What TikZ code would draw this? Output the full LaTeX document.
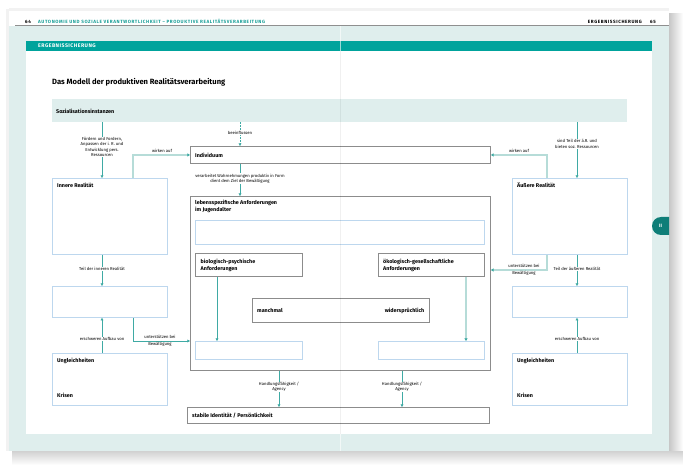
\documentclass[tikz,border=0pt]{standalone}
\usepackage{fontspec}
\setmainfont{Fira Sans}
\newfontfamily\hdrfont[LetterSpace=13]{Fira Sans}
\newfontfamily\bandfont[LetterSpace=9]{Fira Sans}
\usetikzlibrary{arrows.meta,calc}
\definecolor{tint}{HTML}{DFEEED}
\definecolor{band}{HTML}{00A39C}
\definecolor{tabc}{HTML}{0F7E78}
\definecolor{gbord}{HTML}{8C8C8C}
\definecolor{lbord}{HTML}{BDD7EE}
\definecolor{arrc}{HTML}{3FAAA4}
\definecolor{thickc}{HTML}{B6DCD8}
\definecolor{hdrline}{HTML}{8F8F8F}
\definecolor{hdrteal}{HTML}{1A9F98}
\newcommand\lblfont{\fontsize{4.2}{5.3}\selectfont}
\newcommand\boxfont{\bfseries\fontsize{5.4}{7.6}\selectfont}
\newcommand\mkbox[6]{%
 \pgfmathsetmacro\bw{#4-#2}\pgfmathsetmacro\bh{#5-#3}%
 \node[#6,anchor=north west,minimum width=\bw pt,minimum height=\bh pt,inner sep=0pt] (#1) at (#2,#3) {};}
\tikzset{
 gbox/.style={draw=gbord,line width=0.9pt,fill=white},
 lbox/.style={draw=lbord,line width=0.8pt,fill=white},
 sbox/.style={fill=tint},
 tl/.style={draw=arrc,line width=0.6pt,-{Triangle[length=2.6pt,width=2.8pt,color=arrc]}},
 tk/.style={draw=thickc,line width=1.6pt,-{Triangle[length=2.6pt,width=3pt,color=arrc]}},
 lbl/.style={font=\lblfont,align=center,fill=white,inner sep=0.6pt},
 lbln/.style={font=\lblfont,align=center,inner sep=0pt},
 btxt/.style={font=\boxfont,anchor=west,inner sep=0pt,align=left},
 htxt/.style={inner sep=0pt,font=\hdrfont\bfseries\fontsize{4.6}{5}\selectfont},
}
\begin{document}
\begin{tikzpicture}[x=1pt,y=-1pt]
\useasboundingbox (0,0) rectangle (683,465);
\fill[white] (0,0) rectangle (683,465);
% page shadow
\shade[left color=black!22,right color=white] (669,14) rectangle (683,456);
\shade[top color=black!18,bottom color=white] (12,451) rectangle (683,465);
\fill[black!5] (6,9) rectangle (9,451);
\fill[black!5] (9,8) rectangle (669,11);
% page
\fill[white] (9,11) rectangle (669,451);
\fill[tint] (9,26) rectangle (669,451);
\draw[hdrline,line width=1pt] (15,25.5) -- (669,25.5);
% header texts
\node[htxt,anchor=base west] (pgl) at (25,23.5) {64};
\node[htxt,anchor=base west,text=hdrteal] (hdl) at (38,23.5) {AUTONOMIE UND SOZIALE VERANTWORTLICHKEIT – PRODUKTIVE REALITÄTSVERARBEITUNG};
\node[htxt,anchor=base east] (hdr) at (642,23.5) {ERGEBNISSICHERUNG};
\node[htxt,anchor=base east] (pgr) at (656,23.5) {65};
% band and panel
\fill[band] (26,41) rectangle (652,51);
\node[anchor=west,inner sep=0pt,text=white,font=\bandfont\bfseries\fontsize{5.2}{6}\selectfont] (bandtxt) at (38,46) {ERGEBNISSICHERUNG};
\fill[white] (26,51) rectangle (652,434);
% tab
\begin{scope}
\clip (640,200) rectangle (669,250);
\fill[tabc,rounded corners=9pt] (652,217) rectangle (690,235);
\end{scope}
\node[text=white,font=\bfseries\fontsize{4.8}{5}\selectfont,inner sep=0pt] (tabtxt) at (660.5,226) {II};
% title
\node[anchor=west,inner sep=0pt,font=\bfseries\fontsize{7.6}{9}\selectfont] (title) at (52,82) {Das Modell der produktiven Realitätsverarbeitung};
% boxes
\mkbox{soz}{52}{99}{627}{122}{sbox}
\mkbox{indiv}{190}{146}{490}{163}{gbox}
\mkbox{inner}{52}{178}{167}{254}{lbox}
\mkbox{innerB}{52}{286}{167}{317}{lbox}
\mkbox{unglL}{52}{353}{167}{405}{lbox}
\mkbox{aeuss}{512}{178}{627}{254}{lbox}
\mkbox{aeussB}{512}{286}{627}{317}{lbox}
\mkbox{unglR}{512}{353}{627}{405}{lbox}
\mkbox{big}{190}{196}{490}{370}{gbox}
\mkbox{topin}{195}{220}{484}{244}{lbox}
\mkbox{bio}{195}{253}{302}{276}{gbox}
\mkbox{oeko}{378}{253}{484}{276}{gbox}
\mkbox{manch}{252}{298}{429}{322}{gbox}
\mkbox{bl}{195}{341}{302}{359}{lbox}
\mkbox{br}{378}{341}{484}{359}{lbox}
\mkbox{stab}{187}{407}{489}{423}{gbox}
% box texts
\node[btxt] (tsoz) at (56,111) {Sozialisationsinstanzen};
\node[btxt] (tind) at (195,155) {Individuum};
\node[btxt] (tinn) at (57,185.5) {Innere Realität};
\node[btxt] (taeu) at (517,185.5) {Äußere Realität};
\node[btxt,anchor=north west] (tbig) at (195,199.5) {lebensspezifische Anforderungen\\im Jugendalter};
\node[btxt,anchor=north west] (tbio) at (200.5,258.5) {biologisch-psychische\\Anforderungen};
\node[btxt,anchor=north west] (toek) at (383,258.5) {ökologisch-gesellschaftliche\\Anforderungen};
\node[btxt] (tman) at (257,310.5) {manchmal};
\node[btxt,anchor=east] (twid) at (424.5,310.5) {widersprüchlich};
\node[btxt] (tugl) at (57,360.5) {Ungleichheiten};
\node[btxt] (tkrl) at (57,395.5) {Krisen};
\node[btxt] (tugr) at (517,360.5) {Ungleichheiten};
\node[btxt] (tkrr) at (517,395.5) {Krisen};
\node[btxt] (tstab) at (192,415.5) {stabile Identität / Persönlichkeit};
% x/y guides
\coordinate (xL) at (102,0);
\coordinate (xLw) at (133,0);
\coordinate (xC) at (240,0);
\coordinate (xBio) at (217,0);
\coordinate (xOe) at (466,0);
\coordinate (xH1) at (279,0);
\coordinate (xH2) at (402,0);
\coordinate (xRw) at (547,0);
\coordinate (xR) at (577,0);
\coordinate (yU) at (0,270);
% connectors
\draw[tl] (soz.south -| xL) -- (inner.north -| xL);
\draw[tl,dash pattern=on 2pt off 1pt] (soz.south -| xC) -- (indiv.north -| xC);
\draw[tl] (soz.south -| xR) -- (aeuss.north -| xR);
\draw[tk] (inner.north -| xLw) |- (indiv.west);
\draw[tk] (aeuss.north -| xRw) |- (indiv.east);
\draw[tl] (indiv.south -| xC) -- (big.north -| xC);
\draw[tl] (inner.south -| xL) -- (innerB.north -| xL);
\draw[tl] (unglL.north -| xL) -- (innerB.south -| xL);
\draw[tl] (innerB.south -| xLw) |- (big.west |- bl.north);
\draw[tl] (aeuss.south -| xR) -- (aeussB.north -| xR);
\draw[tl] (unglR.north -| xR) -- (aeussB.south -| xR);
\draw[tk] (aeuss.south -| xRw) |- (big.east |- yU);
\draw[tl] (bio.south -| xBio) -- (bl.north -| xBio);
\draw[tk] (oeko.south -| xOe) -- (br.north -| xOe);
\draw[tl] (big.south -| xH1) -- (stab.north -| xH1);
\draw[tl] (big.south -| xH2) -- (stab.north -| xH2);
% labels
\node[lbl] (l1) at (102,147) {Fördern und Fordern,\\Anpassen der i. R. und\\Entwicklung pers.\\Ressourcen};
\node[lbl] (l2) at (240,133) {beeinflussen};
\node[lbl] (l3) at (577,144) {sind Teil der ä.R. und\\bieten soz. Ressourcen};
\node[lbln] (l4) at (162,151) {wirken auf};
\node[lbln] (l5) at (519,151) {wirken auf};
\node[lbl] (l6) at (240,178.5) {verarbeitet Wahrnehmungen produktiv in Form\\dient dem Ziel der Bewältigung};
\node[lbl] (l7) at (102,269) {Teil der inneren Realität};
\node[lbl] (l8) at (102,339) {erschweren Aufbau von};
\node[lbln,font=\fontsize{4.2}{7}\selectfont] (l9) at (160,340.5) {unterstützen bei\\Bewältigung};
\node[lbl] (l10) at (577,269) {Teil der äußeren Realität};
\node[lbl] (l11) at (577,339) {erschweren Aufbau von};
\node[lbln,font=\fontsize{4.2}{7}\selectfont] (l12) at (524,269.5) {unterstützen bei\\Bewältigung};
\node[lbl] (l13) at (279,387) {Handlungsfähigkeit /\\Agency};
\node[lbl] (l14) at (402,387) {Handlungsfähigkeit /\\Agency};
% fold
\draw[white,opacity=0.6,line width=0.6pt] (340,26) -- (340,51);
\draw[white,opacity=0.6,line width=0.6pt] (340,434) -- (340,451);
\draw[black,opacity=0.06,line width=0.6pt] (340,51) -- (340,434);
\end{tikzpicture}
\end{document}
